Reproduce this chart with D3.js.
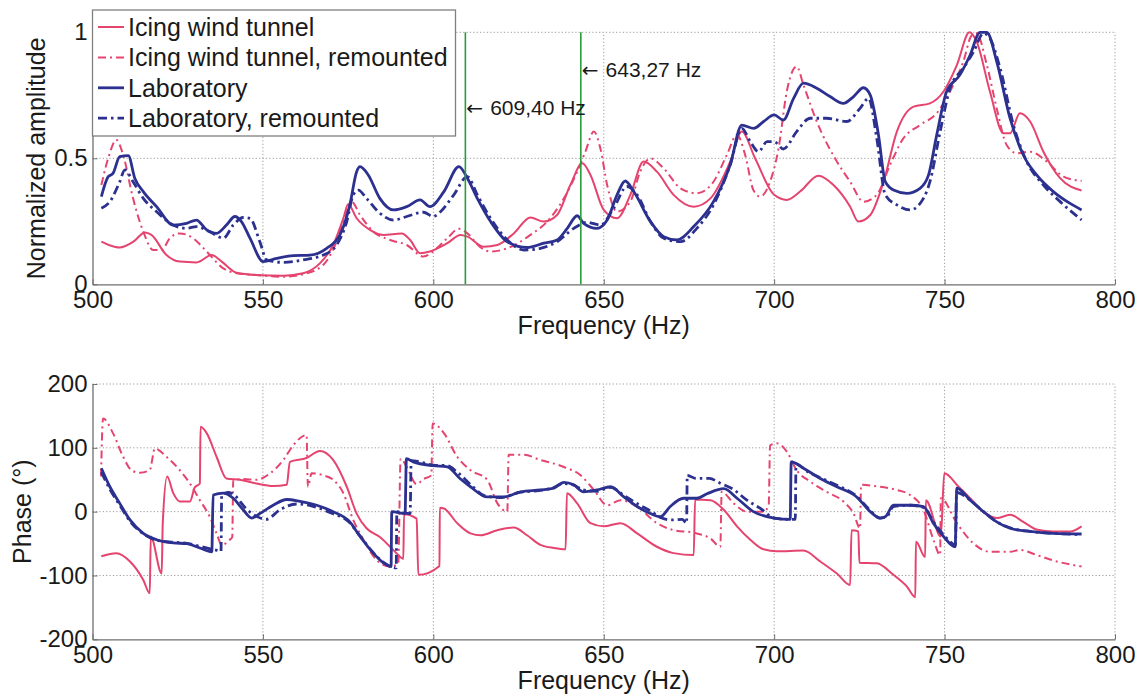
<!DOCTYPE html>
<html><head><meta charset="utf-8">
<script src="https://cdn.jsdelivr.net/npm/d3@7"></script>
<style>
body{margin:0;background:#fff;}
svg{display:block;font-family:"Liberation Sans",Arial,sans-serif;}
</style></head><body>
<svg id="chart" width="1143" height="697"></svg>
<script>
// ---------------- DATA ----------------
const freqTicks = [500, 550, 600, 650, 700, 750, 800];
const ampTicks = [0, 0.5, 1];
const ampTickLabels = ["0", "0.5", "1"];
const phaseTicks = [-200, -100, 0, 100, 200];
const phaseTickLabels = ["-200", "-100", "0", "100", "200"];
const seriesNames = ["Icing wind tunnel", "Icing wind tunnel, remounted", "Laboratory", "Laboratory, remounted"];
const markerFreqs = [609.40, 643.27];
const markerLabels = ["609,40 Hz", "643,27 Hz"];
const markerArrow = "\u2190";
const markerLabelAmp = [0.70, 0.85];
const xTitle = "Frequency (Hz)";
const ampTitle = "Normalized amplitude";
const phaseTitle = "Phase (\u00b0)";

// amplitude [frequency Hz, normalized amplitude]
const ampIWT = [[502.6,0.169],[505,0.155],[508,0.146],[512,0.169],[515.4,0.206],[517.3,0.196],[521.7,0.116],[525.6,0.09],[530.5,0.087],[535,0.116],[537.9,0.09],[542.3,0.046],[548,0.037],[556,0.034],[561.8,0.044],[566.7,0.083],[570.6,0.156],[573.6,0.262],[575,0.318],[577.5,0.262],[581.4,0.216],[585.3,0.196],[590.7,0.202],[593.2,0.176],[596.1,0.123],[599,0.13],[604.1,0.163],[608,0.196],[610,0.189],[614.8,0.149],[618.8,0.156],[623.6,0.202],[628.5,0.265],[632.4,0.249],[636.3,0.275],[640.2,0.394],[643.7,0.48],[646.1,0.434],[650,0.295],[653.9,0.262],[657.8,0.355],[661.7,0.487],[665.6,0.447],[670.5,0.355],[676.4,0.308],[681.3,0.341],[687.1,0.487],[690.5,0.606],[694.4,0.5],[700,0.355],[703.7,0.335],[707.6,0.368],[713,0.431],[717.4,0.394],[722.3,0.308],[724.7,0.249],[728.2,0.275],[732.1,0.407],[736,0.606],[740.9,0.705],[745.7,0.718],[749.7,0.765],[753.6,0.87],[757.3,1.0],[759.4,0.963],[763.3,0.765],[767.3,0.599],[769.2,0.599],[772.1,0.679],[775.1,0.646],[779,0.526],[783.9,0.421],[790.2,0.372]];
const ampIWTr = [[502.6,0.394],[504.6,0.5],[507,0.573],[509,0.513],[511.9,0.341],[514.9,0.209],[517.8,0.136],[520.3,0.136],[522.7,0.183],[525.6,0.202],[529.5,0.183],[533.5,0.13],[538.4,0.063],[542.3,0.044],[548,0.037],[556,0.03],[561.8,0.04],[567.7,0.077],[571.6,0.169],[574.6,0.288],[576,0.328],[578.5,0.275],[582.4,0.209],[587.3,0.176],[592.2,0.156],[597.1,0.11],[601,0.143],[604.1,0.183],[607.5,0.22],[610,0.202],[613.9,0.146],[616.8,0.13],[621.7,0.143],[628.5,0.196],[633.4,0.249],[638.3,0.341],[642.2,0.447],[644.6,0.526],[647.1,0.606],[649,0.54],[651,0.394],[653.9,0.288],[657.8,0.328],[660.7,0.447],[663.7,0.5],[667.6,0.46],[672.5,0.381],[677.3,0.361],[682.2,0.407],[686.1,0.513],[689.1,0.593],[691.5,0.513],[693.9,0.374],[695.9,0.348],[698.8,0.407],[701.3,0.54],[703.7,0.765],[706.6,0.864],[708.6,0.791],[712.5,0.646],[718.4,0.487],[722.3,0.407],[726.2,0.328],[730.1,0.355],[734,0.474],[737.9,0.579],[742.8,0.632],[747.7,0.679],[751.6,0.765],[755.5,0.884],[758,0.989],[759.4,0.996],[762.4,0.87],[765.3,0.698],[768.2,0.553],[771.2,0.52],[775.1,0.526],[780,0.487],[784.9,0.427],[790.2,0.41]];
const ampLab = [[502.6,0.348],[504.6,0.427],[506,0.44],[508,0.507],[510.5,0.511],[512.4,0.421],[514.9,0.368],[518.8,0.308],[523.7,0.235],[527.6,0.242],[530.5,0.255],[533.5,0.216],[536.4,0.202],[539.3,0.235],[541.8,0.269],[543.7,0.249],[546.2,0.183],[550.1,0.09],[554,0.103],[558.9,0.114],[563.8,0.116],[568.7,0.143],[572.6,0.196],[575.5,0.315],[577.5,0.447],[578.5,0.467],[580.9,0.434],[584.3,0.341],[588.3,0.295],[592.2,0.308],[596.1,0.335],[599,0.308],[603.1,0.368],[607.5,0.467],[610,0.421],[612.9,0.341],[616.8,0.249],[621.7,0.169],[627.5,0.146],[632.4,0.163],[636.3,0.176],[639.3,0.222],[642.2,0.272],[644.1,0.242],[648,0.222],[651,0.255],[653.9,0.355],[656.3,0.41],[658.8,0.368],[663.7,0.249],[667.6,0.189],[671.5,0.176],[676.4,0.229],[682.2,0.328],[687.1,0.474],[690.5,0.632],[694,0.619],[696.9,0.646],[700,0.672],[702.7,0.652],[705.7,0.738],[708.6,0.798],[712.5,0.778],[716.4,0.745],[720.3,0.718],[723.3,0.745],[726.2,0.78],[728.2,0.751],[730.6,0.593],[732.6,0.407],[735,0.374],[738.9,0.361],[742.8,0.381],[745.3,0.434],[747.7,0.593],[750.6,0.765],[754.5,0.831],[757.5,0.91],[760.4,1.0],[762.4,1.0],[765.3,0.884],[769.2,0.659],[773.1,0.513],[777,0.434],[781.9,0.368],[786.8,0.321],[790.2,0.295]];
const ampLabr = [[502.6,0.302],[505.1,0.328],[508,0.407],[509.5,0.454],[511.9,0.407],[514.9,0.341],[518.8,0.288],[523.7,0.235],[527.6,0.222],[530.5,0.229],[534.4,0.209],[538.4,0.183],[541.3,0.235],[544.2,0.265],[546.2,0.262],[549.1,0.169],[551.1,0.097],[556,0.087],[561.8,0.097],[567.7,0.116],[571.6,0.156],[574.6,0.249],[576.5,0.355],[578,0.374],[580.4,0.341],[584.3,0.282],[588.3,0.255],[592.2,0.269],[597.1,0.286],[600,0.269],[602.1,0.288],[606,0.355],[610,0.427],[612.9,0.355],[616.8,0.262],[621.7,0.176],[626.6,0.136],[631.4,0.143],[636.3,0.169],[641.2,0.222],[645.1,0.246],[649,0.235],[652.9,0.302],[656.8,0.388],[659.8,0.355],[663.7,0.249],[667.6,0.183],[672.5,0.169],[677.3,0.222],[682.2,0.315],[687.1,0.474],[690.5,0.619],[693,0.566],[695.4,0.526],[697.9,0.566],[700,0.566],[702.7,0.537],[706.6,0.606],[710.6,0.659],[715.4,0.659],[721.3,0.646],[725.2,0.698],[727.7,0.738],[730.1,0.579],[732.6,0.355],[736,0.315],[739.9,0.295],[743.8,0.341],[745.7,0.407],[748.7,0.606],[751.6,0.778],[755.5,0.857],[758.5,0.923],[761.4,0.996],[763.3,0.976],[766.3,0.857],[770.2,0.632],[774.1,0.487],[779,0.394],[783.9,0.328],[790.2,0.255]];

// phase [frequency Hz, degrees]
const phIWT = [[502.6,-70],[507,-65],[511,-78],[514.9,-107],[516.8,-128],[517.1,-39],[520.3,-97],[520.6,-20],[521.9,55],[523.7,29],[525.6,16],[528.6,16],[530,38],[531.5,44],[531.7,133],[533.5,123],[536.4,86],[539.3,52],[543.2,50],[548.1,44],[553,40],[557,42],[557.9,78],[562.8,84],[566.7,95],[570.6,81],[574.6,39],[577.5,-3],[580.4,-26],[584.4,-40],[589.2,-65],[591.2,-74],[591.4,-4],[595.1,-11],[595.6,-99],[601.8,-85],[601.9,6],[603.1,5],[607,-18],[610.9,-34],[613.9,-37],[618.8,-29],[623.6,-25],[627.5,-37],[631.4,-52],[635.4,-57],[638.8,-59],[639.2,29],[642.2,13],[646.1,-18],[650,-23],[654.9,-18],[659.8,-34],[665.6,-55],[670.5,-65],[676.4,-68],[676.8,19],[681.3,18],[685.2,3],[689.1,-23],[693,-44],[696.9,-59],[700.8,-62],[708.6,-61],[713.5,-78],[718.4,-97],[722.3,-115],[722.7,-29],[724.7,-31],[725,-80],[730.1,-81],[735,-99],[738.9,-117],[741.4,-134],[741.6,-47],[744.3,-71],[744.5,18],[748.9,-39],[749.9,60],[754.1,39],[757.5,21],[761.4,0],[765.3,-10],[769.2,-5],[773.1,-16],[777,-28],[781.9,-31],[786.8,-31],[790.2,-23]];
const phIWTr = [[502.5,55],[503.1,146],[506,123],[509,86],[511.4,65],[513.9,61],[516.8,65],[518.3,99],[521.7,86],[525.6,65],[528.6,44],[531.5,18],[534.4,-8],[536.4,-34],[537.9,-52],[540.3,-44],[541,-40],[541.3,50],[544.2,51],[548.1,50],[552.1,60],[556,81],[558.9,104],[562.8,120],[563.2,39],[564.3,60],[567.7,57],[570.6,50],[573.6,29],[576.5,-13],[579.5,-44],[583.4,-76],[587.3,-86],[589.7,-82],[590.4,83],[592.2,70],[595.1,43],[597.1,51],[599.4,57],[599.8,138],[603.1,123],[607,86],[610.9,65],[615.8,50],[618.8,13],[621.7,0],[622.1,89],[626.6,89],[631.4,81],[638.3,70],[643.2,57],[647.1,34],[651,10],[654.9,18],[659.8,8],[665.6,-18],[670.5,-29],[676.4,-33],[681.3,-42],[684.2,-55],[684.6,31],[688.1,13],[692,0],[696.9,0],[698.4,10],[698.8,104],[700.8,107],[703.7,94],[706.6,65],[710.6,47],[715.4,31],[720.3,16],[723.3,-3],[725.2,-26],[725.5,42],[731.1,39],[736,34],[739.9,26],[743.8,3],[746.8,-45],[748.7,-68],[748.9,21],[753.6,-18],[758.5,-50],[763.4,-63],[769.2,-63],[772.1,-60],[777,-68],[782.9,-78],[790.2,-86]];
const phLab = [[502.6,68],[505.1,39],[508,13],[511,-13],[514.9,-34],[518.8,-44],[523.7,-49],[527.6,-50],[531.5,-57],[535,-63],[535.4,26],[538.4,29],[541.3,21],[544.2,3],[546.7,-10],[549.1,-3],[553,10],[557,19],[560.9,16],[565.8,10],[570.6,0],[575.5,-16],[578.5,-39],[582.4,-65],[585.3,-80],[587.6,-86],[587.8,0],[591.7,-3],[592.1,83],[594.1,78],[600,72],[604.1,70],[607.8,52],[610.9,39],[615.8,23],[620.7,23],[625.6,31],[631.4,34],[635.4,37],[638.3,46],[641.2,42],[644.1,31],[648,34],[652,39],[655.9,23],[659.8,8],[663.7,-3],[666.6,-8],[669.5,8],[673.4,21],[677.3,21],[680.3,28],[685.2,36],[689.1,21],[693.9,0],[700,-10],[704.7,-12],[705,78],[708.6,68],[713.5,52],[718.4,39],[724.2,23],[728.2,0],[731.1,-10],[732.6,-8],[735,10],[739.9,10],[743.8,8],[746.7,-18],[749.7,-39],[753.1,-55],[753.6,37],[757.5,18],[761.4,0],[765.3,-16],[769.2,-26],[775.1,-31],[781.9,-34],[790.2,-35]];
const phLabr = [[502.6,62],[505,36],[508,10],[511,-15],[515,-35],[519,-45],[524,-48],[528,-50],[532,-55],[536,-60],[537.7,-62],[537.9,26],[540,30],[542,24],[545,5],[548,-7],[551,-12],[555,3],[560,12],[565,8],[570,-2],[575,-15],[578.5,-38],[582,-62],[585.5,-80],[588,-87],[589.1,-88],[589.3,0],[593.2,-3],[593.5,80],[596,78],[600,73],[604,72],[607,62],[611,42],[615,25],[620,22],[625,30],[631,33],[635,37],[638,44],[641,42],[644,34],[648,32],[652,38],[656,25],[660,12],[664,0],[667,-10],[670,-13],[673,-12],[674.3,-18],[674.5,57],[677,52],[681,52],[684,45],[688,35],[692,18],[696,5],[700,-10],[704,-12],[706.2,-12],[706.4,75],[710,62],[714,52],[719,40],[724,25],[728,3],[731,-10],[733,-8],[735,8],[740,10],[744,6],[747,-18],[750,-38],[753.2,-52],[753.5,30],[757.5,18],[761.4,0],[765,-15],[769,-25],[775,-31],[782,-34],[790,-36]];

// ---------------- STYLE ----------------
const PINK = "#e5446f", BLUE = "#2c3190", GREEN = "#2a9d3a";
const styles = [
  {color: PINK, width: 2, dash: null},
  {color: PINK, width: 2, dash: "8,4,2,4"},
  {color: BLUE, width: 2.8, dash: null},
  {color: BLUE, width: 2.8, dash: "9,4,2.5,4"}
];
const ampSeries = [ampIWT, ampIWTr, ampLab, ampLabr];
const phSeries = [phIWT, phIWTr, phLab, phLabr];

const svg = d3.select("#chart");
const x = d3.scaleLinear().domain([500, 800]).range([92.5, 1115]);
const yA = d3.scaleLinear().domain([0, 1]).range([284.3, 32.3]);
const yP = d3.scaleLinear().domain([-200, 200]).range([639.3, 384]);

function drawPanel(y, yTicks, yLabels, series, yTitle, yTitleX) {
  const g = svg.append("g");
  const [y0, y1] = y.range();
  // grid
  g.append("g").selectAll("line").data(freqTicks.slice(1)).join("line")
    .attr("x1", d => x(d)).attr("x2", d => x(d)).attr("y1", y0).attr("y2", y1)
    .attr("stroke", "#9a9a9a").attr("stroke-width", 1).attr("stroke-dasharray", "1.2,2.2");
  g.append("g").selectAll("line").data(yTicks.slice(1)).join("line")
    .attr("x1", x(500)).attr("x2", x(800)).attr("y1", d => y(d)).attr("y2", d => y(d))
    .attr("stroke", "#9a9a9a").attr("stroke-width", 1).attr("stroke-dasharray", "1.2,2.2");
  // axes
  const xa = g.append("g").attr("transform", `translate(0,${y0})`)
    .call(d3.axisBottom(x).tickValues(freqTicks).tickFormat(d => String(d)).tickSizeInner(-5).tickSizeOuter(0).tickPadding(7));
  const ya = g.append("g").attr("transform", `translate(${x(500)},0)`)
    .call(d3.axisLeft(y).tickValues(yTicks).tickFormat((d, i) => yLabels[i]).tickSizeInner(-5).tickSizeOuter(0).tickPadding(5));
  [xa, ya].forEach(a => {
    a.select(".domain").attr("stroke", "#6e6e6e").attr("stroke-width", 1.3);
    a.selectAll(".tick line").attr("stroke", "#6e6e6e");
    a.selectAll("text").attr("font-size", 24).attr("fill", "#1a1a1a")
      .attr("font-family", "'Liberation Sans', Arial, sans-serif");
  });
  // lines
  const line = d3.line().x(d => x(d[0])).y(d => y(d[1])).curve(d3.curveMonotoneX);
  series.forEach((s, i) => {
    g.append("path").datum(s).attr("d", line).attr("fill", "none")
      .attr("stroke", styles[i].color).attr("stroke-width", styles[i].width)
      .attr("stroke-dasharray", styles[i].dash).attr("stroke-linejoin", "round");
  });
  // titles
  g.append("text").attr("x", (x(500) + x(800)) / 2).attr("y", y0 + 50)
    .attr("text-anchor", "middle").attr("font-size", 25).attr("fill", "#1a1a1a").text(xTitle);
  g.append("text").attr("transform", `translate(${yTitleX},${(y0 + y1) / 2}) rotate(-90)`)
    .attr("text-anchor", "middle").attr("font-size", 25).attr("fill", "#1a1a1a").text(yTitle);
  return g;
}

const ampPanel = drawPanel(yA, ampTicks, ampTickLabels, ampSeries, ampTitle, 45);
// marker lines
ampPanel.append("g").selectAll("line").data(markerFreqs).join("line")
  .attr("x1", d => x(d)).attr("x2", d => x(d)).attr("y1", yA(0)).attr("y2", yA(1))
  .attr("stroke", GREEN).attr("stroke-width", 1.6);
const mt = ampPanel.append("g").selectAll("text").data(markerFreqs).join("text")
  .attr("x", d => x(d) + 1).attr("y", (d, i) => yA(markerLabelAmp[i]))
  .attr("dy", "0.35em").attr("font-size", 21).attr("fill", "#1a1a1a");
mt.append("tspan").attr("font-family", "'DejaVu Sans', sans-serif").attr("font-size", 20).text(markerArrow);
mt.append("tspan").attr("dx", 7).text((d, i) => markerLabels[i]);

drawPanel(yP, phaseTicks, phaseTickLabels, phSeries, phaseTitle, 31);

// legend
const lg = svg.append("g");
lg.append("rect").attr("x", 92.5).attr("y", 10).attr("width", 363).attr("height", 126)
  .attr("fill", "#fff").attr("stroke", "#808080").attr("stroke-width", 1.3);
seriesNames.forEach((n, i) => {
  const yy = 27 + i * 30.4;
  lg.append("line").attr("x1", 98).attr("x2", 124).attr("y1", yy).attr("y2", yy)
    .attr("stroke", styles[i].color).attr("stroke-width", styles[i].width)
    .attr("stroke-dasharray", styles[i].dash);
  lg.append("text").attr("x", 128).attr("y", yy).attr("dy", "0.36em")
    .attr("font-size", 25).attr("fill", "#1a1a1a").text(n);
});
</script>
</body></html>
